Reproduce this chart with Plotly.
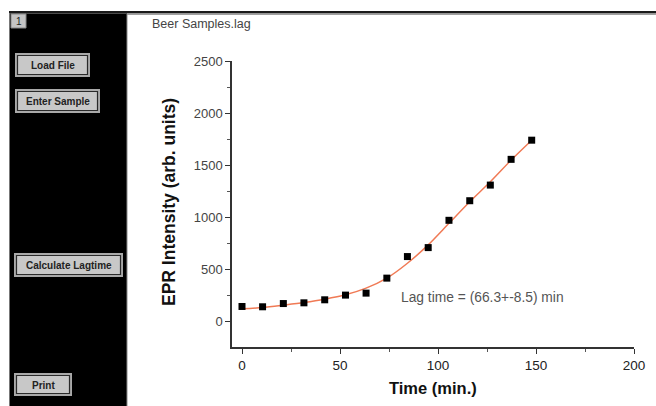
import plotly.graph_objects as go

# ---- data ----
time_min = [0, 10.5, 21.1, 31.6, 42.2, 52.8, 63.3, 73.9, 84.4, 95.0, 105.6, 116.2, 126.7, 137.3, 147.8]
epr_intensity = [144, 141, 172, 179, 208, 253, 272, 416, 623, 709, 971, 1159, 1309, 1556, 1740]
fit_time = [0, 10.5, 21.1, 31.6, 42.2, 52.8, 63.3, 73.9, 84.4, 95.0, 105.6, 116.2, 126.7, 137.3, 147.8]
fit_values = [121, 134, 157, 182, 214, 256, 320, 416, 559, 735, 942, 1149, 1341, 1549, 1740]
x_ticks = [0, 50, 100, 150, 200]
y_ticks = [0, 500, 1000, 1500, 2000, 2500]
buttons = ["Load File", "Enter Sample", "Calculate Lagtime", "Print"]
title_text = "Beer Samples.lag"
lag_text = "Lag time = (66.3+-8.5) min"

W, H = 656, 406
L, R, T, B = 232, 22, 61, 59
PW, PH = W - L - R, H - T - B

def px(x):
    return (x - L) / PW

def py(y):
    return (H - B - y) / PH

FONT = "Arial, Liberation Sans, sans-serif"

fig = go.Figure()
fig.add_trace(go.Scatter(x=fit_time, y=fit_values, mode="lines",
                         line=dict(color="#F07A55", width=1.5, shape="spline", smoothing=0.8),
                         hoverinfo="skip", showlegend=False))
fig.add_trace(go.Scatter(x=time_min, y=epr_intensity, mode="markers",
                         marker=dict(symbol="square", size=7, color="#000000"),
                         showlegend=False))

shapes = []
# top double line
shapes.append(dict(type="rect", xref="paper", yref="paper", x0=px(9), x1=px(656), y0=py(13.5), y1=py(11),
                   fillcolor="#1a1a1a", line=dict(width=0), layer="above"))
shapes.append(dict(type="rect", xref="paper", yref="paper", x0=px(9), x1=px(656), y0=py(15), y1=py(13.5),
                   fillcolor="#a0a0a0", line=dict(width=0), layer="above"))
# black side panel
shapes.append(dict(type="rect", xref="paper", yref="paper", x0=px(9), x1=px(127), y0=py(406), y1=py(13.5),
                   fillcolor="#000000", line=dict(width=0), layer="above"))
shapes.append(dict(type="line", xref="paper", yref="paper", x0=px(9.5), x1=px(9.5), y0=py(406), y1=py(13),
                   line=dict(color="#777777", width=1), layer="above"))
shapes.append(dict(type="line", xref="paper", yref="paper", x0=px(127), x1=px(127), y0=py(406), y1=py(14),
                   line=dict(color="#8a8a8a", width=1), layer="above"))
# "1" box
shapes.append(dict(type="rect", xref="paper", yref="paper", x0=px(11), x1=px(26), y0=py(28), y1=py(14),
                   fillcolor="#c4c4c4", line=dict(color="#888888", width=1), layer="above"))

btn_boxes = [(15, 90, 53, 77), (15, 100, 89, 113), (14, 123, 253, 277), (14, 72, 373, 396)]
annotations = []
for (x0, x1, y0, y1), label in zip(btn_boxes, buttons):
    shapes.append(dict(type="rect", xref="paper", yref="paper", x0=px(x0), x1=px(x1), y0=py(y1), y1=py(y0),
                       fillcolor="#a9a9a9", line=dict(width=0), layer="above"))
    shapes.append(dict(type="rect", xref="paper", yref="paper", x0=px(x0 + 2.5), x1=px(x1 - 2.5),
                       y0=py(y1 - 2.5), y1=py(y0 + 2.5),
                       fillcolor="#c8c8c8", line=dict(color="#2a2a2a", width=1.2), layer="above"))
    annotations.append(dict(xref="paper", yref="paper", x=px((x0 + x1) / 2), y=py((y0 + y1) / 2 + 0.5),
                            text="<b>" + label + "</b>", showarrow=False, xanchor="center", yanchor="middle",
                            font=dict(family=FONT, size=10, color="#222222")))

annotations.append(dict(xref="paper", yref="paper", x=px(18.5), y=py(21.5), text="1", showarrow=False,
                        xanchor="center", yanchor="middle", font=dict(family=FONT, size=10, color="#222222")))
annotations.append(dict(xref="paper", yref="paper", x=px(150), y=py(23.5), text=title_text, showarrow=False,
                        xanchor="left", yanchor="middle", font=dict(family=FONT, size=12.5, color="#444444")))
annotations.append(dict(xref="paper", yref="paper", x=px(169), y=py(202),
                        text="<b>EPR Intensity (arb. units)</b>", showarrow=False, textangle=-90,
                        xanchor="center", yanchor="middle", font=dict(family=FONT, size=17.5, color="#111111")))
annotations.append(dict(xref="paper", yref="paper", x=px(433), y=py(388),
                        text="<b>Time (min.)</b>", showarrow=False,
                        xanchor="center", yanchor="middle", font=dict(family=FONT, size=16.5, color="#111111")))
annotations.append(dict(xref="x", yref="y", x=80.2, y=227, text=lag_text, showarrow=False,
                        xanchor="left", yanchor="middle", font=dict(family=FONT, size=13.8, color="#555555")))

fig.update_layout(
    width=W, height=H,
    margin=dict(l=L, r=R, t=T, b=B),
    paper_bgcolor="white", plot_bgcolor="white",
    shapes=shapes, annotations=annotations,
    font=dict(family=FONT),
    xaxis=dict(range=[-5.1, 200], tickvals=x_ticks, ticktext=[str(v) for v in x_ticks],
               showgrid=False, zeroline=False, showline=True, linecolor="#333333", linewidth=1.5,
               ticks="outside", ticklen=5, tickwidth=1.2, tickcolor="#333333",
               minor=dict(ticks="outside", ticklen=3, tickwidth=1, tickcolor="#555555", dtick=25, tick0=0),
               tickfont=dict(family=FONT, size=13.5, color="#222222")),
    yaxis=dict(range=[-245, 2500], tickvals=y_ticks, ticktext=[str(v) for v in y_ticks],
               showgrid=False, zeroline=False, showline=True, linecolor="#333333", linewidth=1.5,
               ticks="outside", ticklen=5, tickwidth=1.2, tickcolor="#333333",
               minor=dict(ticks="outside", ticklen=3, tickwidth=1, tickcolor="#555555", dtick=250, tick0=0),
               tickfont=dict(family=FONT, size=13, color="#444444")),
)

fig.write_html("out.html")
